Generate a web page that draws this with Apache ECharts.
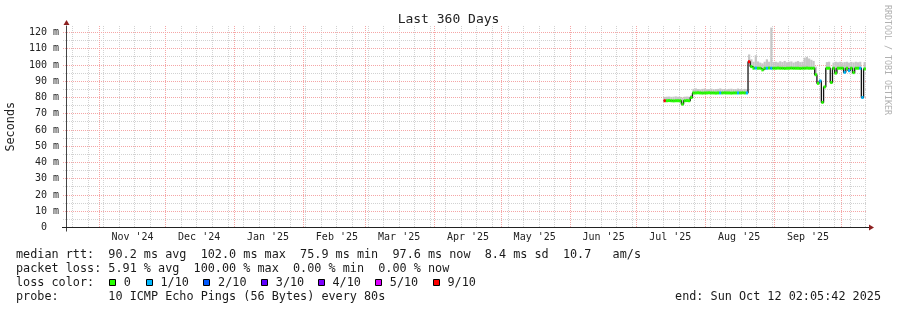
<!DOCTYPE html>
<html><head><meta charset="utf-8">
<script src="https://cdn.jsdelivr.net/npm/echarts@6/dist/echarts.min.js"></script>
<style>html,body{margin:0;padding:0;background:#fff}#c{width:897px;height:310px}</style>
</head><body><div id="c"></div><script>
const MONO = '"DejaVu Sans Mono", monospace';
const DAY = 86400000;

// ---- time range of the graph (Last 360 Days) ----
const rangeStart = Date.UTC(2024, 9, 17, 2, 5, 42);
const rangeEnd = Date.UTC(2025, 9, 12, 2, 5, 42);
const firstDataDay = '2025-07-13';   // one value per day from here on

// ---- series values (milliseconds) ----
const medianMs = [
  78.0, 78.0, 78.1, 78.0, 77.9, 78.0, 78.0, 78.0, 75.9, 78.0, 78.1, 78.0, 80.0,
  82.8, 82.8, 82.9, 82.8, 82.7, 82.8, 82.8, 82.9, 82.8, 82.8, 82.7, 82.8, 82.8,
  82.8, 82.9, 82.8, 82.8, 82.7, 82.8, 82.8, 82.8, 82.8, 82.9, 82.8, 82.8,
  102.0, 99.0, 98.0, 98.1, 98.0, 98.0, 97.0, 98.0, 98.0, 98.1, 98.0, 98.0,
  98.0, 98.1, 98.0, 98.0, 97.9, 98.0, 98.0, 98.1, 98.0, 98.0, 98.0, 97.9, 98.0, 98.0, 98.1, 98.0, 98.0, 98.0,
  94.0, 88.7, 90.2, 77.0, 86.5, 98.0, 98.0, 89.2, 98.0, 95.0, 98.0, 98.0, 98.0,
  95.5, 98.0, 96.5, 98.0, 95.3, 98.0, 98.0, 98.0, 80.0, 97.6
];
const smokeMaxMs = [
  80.4, 80.5, 80.6, 80.4, 80.5, 80.7, 80.5, 80.4, 80.0, 80.5, 80.6, 80.5, 81.5,
  85.3, 85.6, 85.2, 85.0, 85.3, 85.5, 85.1, 85.2, 85.4, 85.0, 85.2, 85.3, 85.6,
  85.1, 85.2, 85.0, 85.3, 85.4, 85.2, 85.1, 85.5, 85.2, 85.0, 85.3, 85.1,
  106.5, 103.5, 102.0, 106.0, 102.2, 101.5, 101.0, 102.0, 103.5, 102.0, 123.0, 101.8,
  102.0, 101.6, 102.3, 101.8, 102.5, 101.7, 102.0, 102.2, 101.5, 102.0, 102.4, 101.8, 102.0, 104.5, 105.0, 104.0, 103.2, 102.5,
  99.0, null, null, null, null, 101.8, 102.0, null, 101.5, 102.0, 101.7, 102.0, 101.6,
  101.8, 102.0, 101.5, 101.9, 101.6, 102.0, 101.7, 102.0, null, 101.8
];
const lostPings = [
  9, 0, 0, 0, 0, 0, 0, 0, 0, 0, 0, 0, 0,
  0, 0, 0, 0, 0, 0, 0, 0, 0, 0, 0, 0, 1,
  0, 0, 0, 0, 0, 0, 0, 1, 0, 0, 0, 1,
  9, 0, 0, 1, 0, 0, 0, 0, 1, 0, 1, 0,
  0, 0, 0, 0, 0, 0, 0, 0, 0, 0, 0, 0, 0, 0, 0, 0, 0, 0,
  0, 0, 1, 0, 0, 0, 0, 0, 0, 0, 0, 0, 0,
  1, 0, 1, 0, 0, 0, 0, 1, 1, 0
];

// ---- axis ticks / labels ----
const yTicks = [0, 10, 20, 30, 40, 50, 60, 70, 80, 90, 100, 110, 120];
const yMinorTicks = [5, 15, 25, 35, 45, 55, 65, 75, 85, 95, 105, 115];
const monthLabels = ["Nov '24", "Dec '24", "Jan '25", "Feb '25", "Mar '25", "Apr '25", "May '25", "Jun '25", "Jul '25", "Aug '25", "Sep '25"];
const monthLabelDates = ['2024-11-16', '2024-12-16', '2025-01-16', '2025-02-16', '2025-03-16', '2025-04-16', '2025-05-16', '2025-06-16', '2025-07-16', '2025-08-16', '2025-09-16'];
const monthLineDates = ['2024-11-01', '2024-12-01', '2025-01-01', '2025-02-01', '2025-03-01', '2025-04-01', '2025-05-01', '2025-06-01', '2025-07-01', '2025-08-01', '2025-09-01', '2025-10-01'];
const firstWeekLine = '2024-10-20';

// ---- legend ----
const lossLegendLabels = ['0', '1/10', '2/10', '3/10', '4/10', '5/10', '9/10'];
const lossColors = ['#26ff00', '#00b8ff', '#0059ff', '#5e00ff', '#7e00ff', '#dd00ff', '#ff0000'];
const legendLines = [
  'median rtt:  90.2 ms avg  102.0 ms max  75.9 ms min  97.6 ms now  8.4 ms sd  10.7   am/s',
  'packet loss: 5.91 % avg  100.00 % max  0.00 % min  0.00 % now',
  'loss color:',
  'probe:       10 ICMP Echo Pings (56 Bytes) every 80s'
];
const endText = 'end: Sun Oct 12 02:05:42 2025';

// ---- layout ----
const G = { left: 66, top: 26, width: 800, height: 201.5 };
const Y_MAX = 124;
const legendBoxX = [109, 145.7, 203.3, 261, 317.7, 375, 432.7];

function lossColorIdx(n) { if (n <= 0) return 0; if (n <= 4) return n; if (n <= 8) return 5; return 6; }

const d0 = Date.parse(firstDataDay);
const dayTimes = medianMs.map((_, i) => d0 + i * DAY);
const monthLabelTimes = monthLabelDates.map(Date.parse);
const monthLineTimes = monthLineDates.map(Date.parse);
const weekLineTimes = [];
for (let t = Date.parse(firstWeekLine); t <= rangeEnd; t += 7 * DAY) weekLineTimes.push(t);

function vLine(color) {
  return function (params, api) {
    const cs = params.coordSys;
    const x = Math.floor(api.coord([api.value(0), 0])[0]) + 0.5;
    return { type: 'line', shape: { x1: x, y1: cs.y, x2: x, y2: cs.y + cs.height },
      style: { stroke: color, lineWidth: 1, lineDash: [1, 1] } };
  };
}
function hLine(color) {
  return function (params, api) {
    const cs = params.coordSys;
    const y = Math.floor(api.coord([rangeStart, api.value(1)])[1]) + 0.5;
    return { type: 'line', shape: { x1: cs.x - 3, y1: y, x2: cs.x + cs.width + 1, y2: y },
      style: { stroke: color, lineWidth: 1, lineDash: [1, 1] } };
  };
}
const GRAY = '#d2d2d2', RED = '#f5a6a6';

const stepData = dayTimes.map((t, i) => [t, medianMs[i]]);
stepData.push([dayTimes[dayTimes.length - 1] + DAY, medianMs[medianMs.length - 1]]);

const chart = echarts.init(document.getElementById('c'), null, { renderer: 'canvas' });

const graphics = [];
graphics.push({ type: 'text', x: 11, y: G.top + G.height / 2, rotation: Math.PI / 2,
  style: { text: 'Seconds', font: '11.8px ' + MONO, fill: '#222', align: 'center', verticalAlign: 'middle' } });
graphics.push({ type: 'text', x: 887, y: 5, rotation: -Math.PI / 2,
  style: { text: 'RRDTOOL / TOBI OETIKER', font: '8.3px ' + MONO, fill: '#b0b0b0', align: 'left', verticalAlign: 'middle' } });
legendLines.forEach((s, k) => {
  graphics.push({ type: 'text', x: 16, y: 254.5 + 14 * k,
    style: { text: s, font: '11.8px ' + MONO, fill: '#1a1a1a', align: 'left', verticalAlign: 'middle' } });
});
lossLegendLabels.forEach((lab, k) => {
  graphics.push({ type: 'rect', shape: { x: Math.round(legendBoxX[k]) + 0.5, y: 279.5, width: 6, height: 6 },
    style: { fill: lossColors[k], stroke: '#000', lineWidth: 1 } });
  graphics.push({ type: 'text', x: legendBoxX[k] + 14.8, y: 254.5 + 28,
    style: { text: lab, font: '11.8px ' + MONO, fill: '#1a1a1a', align: 'left', verticalAlign: 'middle' } });
});
graphics.push({ type: 'text', x: 881, y: 254.5 + 42,
  style: { text: endText, font: '11.8px ' + MONO, fill: '#1a1a1a', align: 'right', verticalAlign: 'middle' } });
// axis extensions and arrows
const axX = G.left + 0.5, axY = G.top + G.height;
graphics.push({ type: 'line', shape: { x1: axX, y1: axY, x2: axX, y2: axY + 4 }, style: { stroke: '#444', lineWidth: 1 }, z: 20 });
graphics.push({ type: 'line', shape: { x1: G.left - 4, y1: axY, x2: G.left + G.width + 3, y2: axY }, style: { stroke: '#222', lineWidth: 1 }, z: 20 });
graphics.push({ type: 'polygon', shape: { points: [[axX, G.top - 6], [axX - 3, G.top - 1], [axX + 3, G.top - 1]] }, style: { fill: '#8c2020' }, z: 20 });
const arX = G.left + G.width + 2;
graphics.push({ type: 'polygon', shape: { points: [[arX + 6, axY], [arX + 1, axY - 3], [arX + 1, axY + 3]] }, style: { fill: '#8c2020' }, z: 20 });

chart.setOption({
  animation: false,
  backgroundColor: '#fff',
  title: { text: 'Last 360 Days', left: 'center', top: 13, padding: 0,
    textStyle: { fontFamily: MONO, fontSize: 13, fontWeight: 'normal', color: '#222' } },
  grid: { left: G.left, top: G.top, width: G.width, height: G.height, containLabel: false, outerBoundsMode: 'none' },
  xAxis: {
    type: 'value', min: rangeStart, max: rangeEnd, z: 10,
    axisLine: { show: true, lineStyle: { color: '#222', width: 1 } },
    axisTick: { show: false }, splitLine: { show: false }, minorSplitLine: { show: false },
    axisLabel: { customValues: monthLabelTimes, margin: 5, fontFamily: MONO, fontSize: 10, color: '#222',
      formatter: v => { const k = monthLabelTimes.indexOf(v); return k >= 0 ? monthLabels[k] : ''; } }
  },
  yAxis: {
    type: 'value', min: 0, max: Y_MAX, z: 10,
    axisLine: { show: true, onZero: false, lineStyle: { color: '#444', width: 1 } },
    axisTick: { show: false }, splitLine: { show: false },
    axisLabel: { customValues: yTicks, margin: 7, fontFamily: MONO, fontSize: 10, color: '#222',
      formatter: v => v === 0 ? '0  ' : v + ' m' }
  },
  graphic: graphics,
  series: [
    { type: 'custom', silent: true, clip: false, z: 1, data: yMinorTicks.map(v => [rangeStart, v]), renderItem: hLine(GRAY) },
    { type: 'custom', silent: true, z: 1, data: weekLineTimes.map(t => [t, 0]), renderItem: vLine(GRAY) },
    { type: 'custom', silent: true, clip: false, z: 2, data: yTicks.filter(v => v > 0).map(v => [rangeStart, v]), renderItem: hLine(RED) },
    { type: 'custom', silent: true, z: 2, data: monthLineTimes.map(t => [t, 0]), renderItem: vLine(RED) },
    { type: 'custom', silent: true, z: 3, encode: { x: 0, y: 1 },
      data: dayTimes.map((t, i) => [t, smokeMaxMs[i] == null ? NaN : smokeMaxMs[i], medianMs[i]]),
      renderItem: function (params, api) {
        const t = api.value(0), top = api.value(1), med = api.value(2);
        if (isNaN(top)) return null;
        const a = api.coord([t, top]), b = api.coord([t + DAY, med]);
        return { type: 'rect', shape: { x: a[0], y: a[1], width: b[0] - a[0], height: b[1] - a[1] }, style: { fill: '#c6c6c6' } };
      } },
    { type: 'line', silent: true, z: 4, step: 'end', showSymbol: false, symbol: 'none', data: stepData,
      lineStyle: { color: '#151515', width: 1.3 } },
    { type: 'custom', silent: true, z: 5, encode: { x: 0, y: 1 },
      data: dayTimes.map((t, i) => [t, medianMs[i], lossColorIdx(lostPings[i])]),
      renderItem: function (params, api) {
        const t = api.value(0), v = api.value(1), c = api.value(2);
        const a = api.coord([t, v]), b = api.coord([t + DAY, v]);
        return { type: 'rect', shape: { x: a[0], y: a[1] - 1.5, width: b[0] - a[0], height: 3 }, style: { fill: lossColors[c] } };
      } }
  ]
});
</script></body></html>
